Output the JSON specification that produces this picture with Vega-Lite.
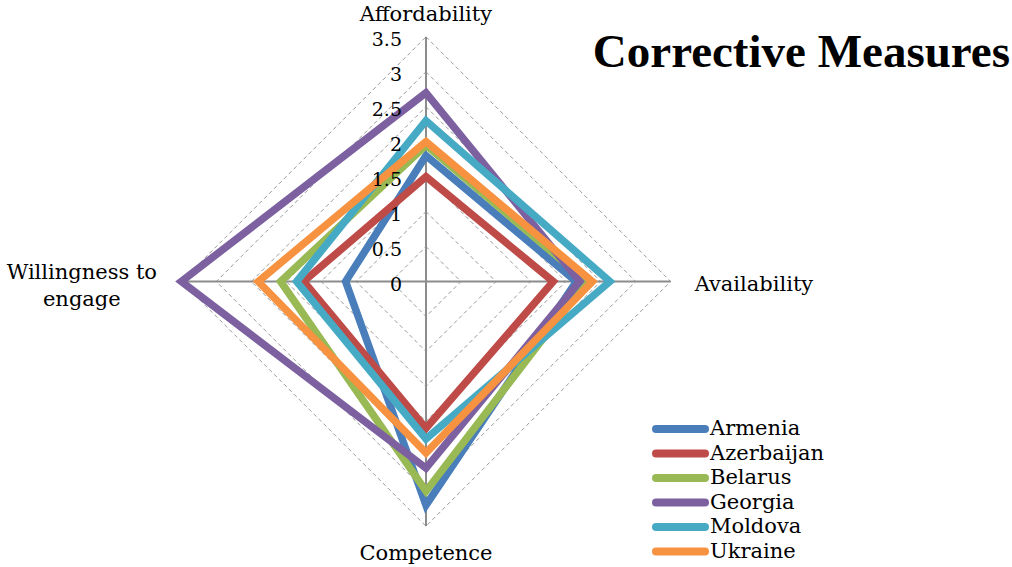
{
  "$schema": "https://vega.github.io/schema/vega-lite/v6.json",
  "width": 1012,
  "height": 567,
  "autosize": {"type": "none"},
  "padding": 0,
  "background": "#ffffff",
  "config": {"view": {"stroke": null}},
  "title": {"text": "Corrective Measures", "font": "Liberation Serif", "fontSize": 47, "fontWeight": "bold", "color": "#000000", "anchor": "end", "orient": "top", "frame": "group", "baseline": "alphabetic", "offset": 0, "dy": 114, "dx": -2},
  "datasets": {
    "scores": [
      {"country": "Armenia", "axis": "Affordability", "k": 0, "value": 1.8},
      {"country": "Armenia", "axis": "Availability", "k": 1, "value": 2.15},
      {"country": "Armenia", "axis": "Competence", "k": 2, "value": 3.2},
      {"country": "Armenia", "axis": "Willingness to engage", "k": 3, "value": 1.15},
      {"country": "Azerbaijan", "axis": "Affordability", "k": 0, "value": 1.5},
      {"country": "Azerbaijan", "axis": "Availability", "k": 1, "value": 1.82},
      {"country": "Azerbaijan", "axis": "Competence", "k": 2, "value": 2.1},
      {"country": "Azerbaijan", "axis": "Willingness to engage", "k": 3, "value": 1.75},
      {"country": "Belarus", "axis": "Affordability", "k": 0, "value": 1.95},
      {"country": "Belarus", "axis": "Availability", "k": 1, "value": 2.3},
      {"country": "Belarus", "axis": "Competence", "k": 2, "value": 3.0},
      {"country": "Belarus", "axis": "Willingness to engage", "k": 3, "value": 2.08},
      {"country": "Georgia", "axis": "Affordability", "k": 0, "value": 2.7},
      {"country": "Georgia", "axis": "Availability", "k": 1, "value": 2.2},
      {"country": "Georgia", "axis": "Competence", "k": 2, "value": 2.67},
      {"country": "Georgia", "axis": "Willingness to engage", "k": 3, "value": 3.5},
      {"country": "Moldova", "axis": "Affordability", "k": 0, "value": 2.3},
      {"country": "Moldova", "axis": "Availability", "k": 1, "value": 2.63},
      {"country": "Moldova", "axis": "Competence", "k": 2, "value": 2.25},
      {"country": "Moldova", "axis": "Willingness to engage", "k": 3, "value": 1.85},
      {"country": "Ukraine", "axis": "Affordability", "k": 0, "value": 2.0},
      {"country": "Ukraine", "axis": "Availability", "k": 1, "value": 2.38},
      {"country": "Ukraine", "axis": "Competence", "k": 2, "value": 2.45},
      {"country": "Ukraine", "axis": "Willingness to engage", "k": 3, "value": 2.4}
    ],
    "axes": [
      {"axis": "Affordability", "k": 0, "label": "Affordability", "max": 3.5, "levels": [0.5, 1, 1.5, 2, 2.5, 3, 3.5]},
      {"axis": "Availability", "k": 1, "label": "Availability", "max": 3.5, "levels": [0.5, 1, 1.5, 2, 2.5, 3, 3.5]},
      {"axis": "Competence", "k": 2, "label": "Competence", "max": 3.5, "levels": [0.5, 1, 1.5, 2, 2.5, 3, 3.5]},
      {"axis": "Willingness to engage", "k": 3, "label": "Willingness to\nengage", "max": 3.5, "levels": [0.5, 1, 1.5, 2, 2.5, 3, 3.5]}
    ],
    "ticks": [
      {"t": 0}, {"t": 0.5}, {"t": 1}, {"t": 1.5}, {"t": 2}, {"t": 2.5}, {"t": 3}, {"t": 3.5}
    ]
  },
  "layer": [
    {
      "data": {"name": "axes"},
      "transform": [
        {"flatten": ["levels"], "as": ["level"]},
        {"calculate": "datum.k == 1 ? datum.level : (datum.k == 3 ? -datum.level : 0)", "as": "gx"},
        {"calculate": "datum.k == 0 ? datum.level : (datum.k == 2 ? -datum.level : 0)", "as": "gy"}
      ],
      "mark": {"type": "line", "interpolate": "linear-closed", "stroke": "#9a9a9a", "strokeWidth": 1, "strokeDash": [4, 3]},
      "encoding": {
        "x": {"field": "gx", "type": "quantitative", "scale": {"domain": [-6.094, 8.383], "nice": false, "zero": false}, "axis": null},
        "y": {"field": "gy", "type": "quantitative", "scale": {"domain": [-4.084, 4.027], "nice": false, "zero": false}, "axis": null},
        "detail": {"field": "level", "type": "nominal"},
        "order": {"field": "k", "type": "quantitative"}
      }
    },
    {
      "data": {"name": "axes"},
      "transform": [
        {"calculate": "datum.k == 1 ? datum.max : (datum.k == 3 ? -datum.max : 0)", "as": "ex"},
        {"calculate": "datum.k == 0 ? datum.max : (datum.k == 2 ? -datum.max : 0)", "as": "ey"},
        {"calculate": "0", "as": "o"}
      ],
      "mark": {"type": "rule", "stroke": "#8c8c8c", "strokeWidth": 2},
      "encoding": {
        "x": {"field": "o", "type": "quantitative"},
        "y": {"field": "o", "type": "quantitative"},
        "x2": {"field": "ex"},
        "y2": {"field": "ey"}
      }
    },
    {
      "data": {"name": "scores"},
      "transform": [
        {"calculate": "datum.k == 1 ? datum.value : (datum.k == 3 ? -datum.value : 0)", "as": "px"},
        {"calculate": "datum.k == 0 ? datum.value : (datum.k == 2 ? -datum.value : 0)", "as": "py"}
      ],
      "mark": {"type": "line", "interpolate": "linear-closed", "strokeWidth": 7.5, "strokeJoin": "miter", "strokeMiterLimit": 10},
      "encoding": {
        "x": {"field": "px", "type": "quantitative"},
        "y": {"field": "py", "type": "quantitative"},
        "order": {"field": "k", "type": "quantitative"},
        "color": {
          "field": "country",
          "type": "nominal",
          "scale": {"domain": ["Armenia", "Azerbaijan", "Belarus", "Georgia", "Moldova", "Ukraine"], "range": ["#4A7EBB", "#BE4B48", "#98B954", "#7D60A0", "#46AAC5", "#F69240"]},
          "legend": {
            "orient": "none", "legendX": 652, "legendY": 417, "title": null,
            "symbolType": "stroke", "symbolSize": 2401, "symbolStrokeWidth": 8,
            "labelFont": "DejaVu Serif", "labelFontSize": 21, "labelColor": "#000000", "labelOffset": 1,
            "labelBaseline": "middle", "clipHeight": 24, "rowPadding": 0.5, "padding": 0,
            "symbolOpacity": 1,
            "encode": {"symbols": {"update": {"strokeCap": {"value": "round"}}}}
          }
        }
      }
    },
    {
      "data": {"name": "ticks"},
      "transform": [{"calculate": "0", "as": "o"}],
      "mark": {"type": "text", "align": "right", "baseline": "middle", "dx": -24, "dy": 3, "font": "DejaVu Serif", "fontSize": 19, "color": "#000000"},
      "encoding": {
        "x": {"field": "o", "type": "quantitative"},
        "y": {"field": "t", "type": "quantitative"},
        "text": {"field": "t", "type": "quantitative"}
      }
    },
    {
      "data": {"name": "axes"},
      "transform": [{"filter": "datum.k == 0"}, {"calculate": "datum.max", "as": "ey"}, {"calculate": "0", "as": "o"}],
      "mark": {"type": "text", "align": "center", "baseline": "alphabetic", "dy": -16, "font": "DejaVu Serif", "fontSize": 21, "color": "#000000"},
      "encoding": {"x": {"field": "o", "type": "quantitative"}, "y": {"field": "ey", "type": "quantitative"}, "text": {"field": "label", "type": "nominal"}}
    },
    {
      "data": {"name": "axes"},
      "transform": [{"filter": "datum.k == 1"}, {"calculate": "datum.max", "as": "ex"}, {"calculate": "0", "as": "o"}],
      "mark": {"type": "text", "align": "left", "baseline": "alphabetic", "dx": 24, "dy": 9.5, "font": "DejaVu Serif", "fontSize": 21, "color": "#000000"},
      "encoding": {"x": {"field": "ex", "type": "quantitative"}, "y": {"field": "o", "type": "quantitative"}, "text": {"field": "label", "type": "nominal"}}
    },
    {
      "data": {"name": "axes"},
      "transform": [{"filter": "datum.k == 2"}, {"calculate": "-datum.max", "as": "ey"}, {"calculate": "0", "as": "o"}],
      "mark": {"type": "text", "align": "center", "baseline": "alphabetic", "dy": 34, "font": "DejaVu Serif", "fontSize": 21, "color": "#000000"},
      "encoding": {"x": {"field": "o", "type": "quantitative"}, "y": {"field": "ey", "type": "quantitative"}, "text": {"field": "label", "type": "nominal"}}
    },
    {
      "data": {"name": "axes"},
      "transform": [{"filter": "datum.k == 3"}, {"calculate": "-datum.max", "as": "ex"}, {"calculate": "0", "as": "o"}],
      "mark": {"type": "text", "align": "center", "baseline": "alphabetic", "dx": -99.5, "dy": -3, "lineBreak": "\n", "lineHeight": 27, "font": "DejaVu Serif", "fontSize": 21, "color": "#000000"},
      "encoding": {"x": {"field": "ex", "type": "quantitative"}, "y": {"field": "o", "type": "quantitative"}, "text": {"field": "label", "type": "nominal"}}
    }
  ]
}
